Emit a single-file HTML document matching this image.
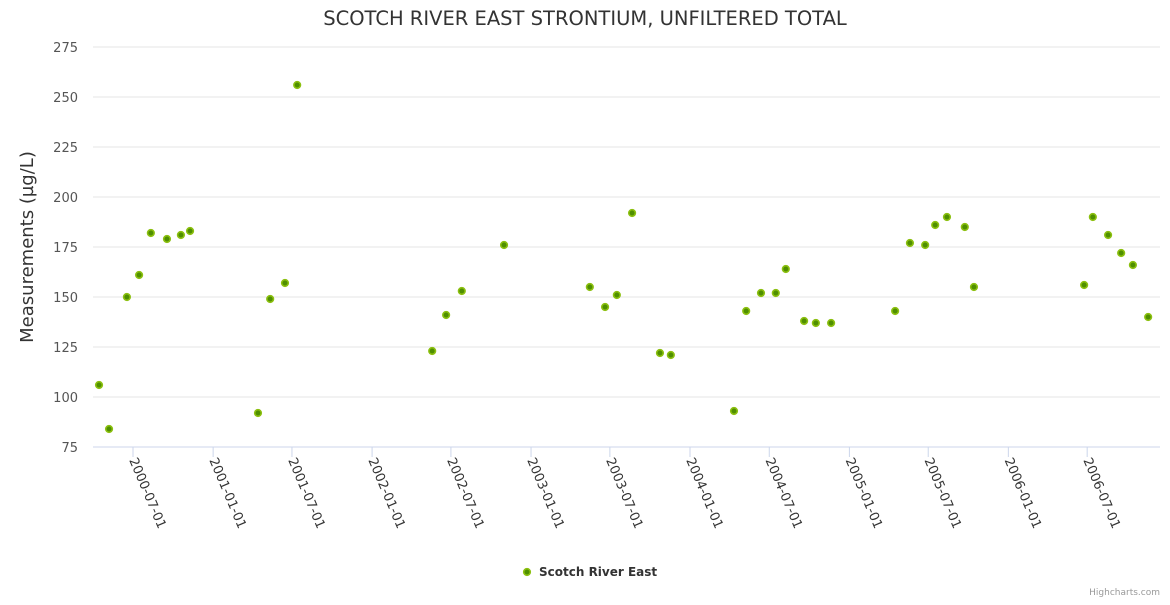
<!DOCTYPE html>
<html><head><meta charset="utf-8"><style>
body{margin:0;background:#fff;}
svg{font-family:"DejaVu Sans","Liberation Sans",sans-serif;}
</style></head><body>
<svg width="1170" height="600" id="c">
<text x="585" y="25" text-anchor="middle" font-size="19.5" fill="#333">SCOTCH RIVER EAST STRONTIUM, UNFILTERED TOTAL</text>
<text transform="translate(33,247) rotate(-90)" text-anchor="middle" font-size="18" fill="#333">Measurements (µg/L)</text>
<g id="grid"></g><g id="xt"></g><g id="pts"></g>
<g>
<circle cx="527" cy="572" r="3.3" fill="#4f8f00" stroke="#8cc010" stroke-width="1.6"/>
<text x="539" y="576" font-size="12" font-weight="bold" fill="#333">Scotch River East</text>
</g>
<text x="1160" y="595" text-anchor="end" font-size="9" fill="#999">Highcharts.com</text>
</svg>
<script>
const dates=["2000-04-14","2000-05-07","2000-06-17","2000-07-15","2000-08-11","2000-09-17","2000-10-19","2000-11-09","2001-04-14","2001-05-12","2001-06-15","2001-07-13","2002-05-19","2002-06-20","2002-07-26","2002-10-31","2003-05-16","2003-06-20","2003-07-17","2003-08-21","2003-10-24","2003-11-18","2004-04-11","2004-05-09","2004-06-12","2004-07-16","2004-08-08","2004-09-19","2004-10-16","2004-11-20","2005-04-16","2005-05-20","2005-06-24","2005-07-17","2005-08-13","2005-09-23","2005-10-14","2006-06-24","2006-07-14","2006-08-18","2006-09-17","2006-10-14","2006-11-18"];
const values=[106,84,150,161,182,179,181,183,92,149,157,256,123,141,153,176,155,145,151,192,122,121,93,143,152,152,164,138,137,137,143,177,176,186,190,185,155,156,190,181,172,166,140];
const yTicks=[75,100,125,150,175,200,225,250,275];
const xTicks=["2000-07-01","2001-01-01","2001-07-01","2002-01-01","2002-07-01","2003-01-01","2003-07-01","2004-01-01","2004-07-01","2005-01-01","2005-07-01","2006-01-01","2006-07-01"];
const NS="http://www.w3.org/2000/svg";
const t0=Date.UTC(2000,6,1);
function xS(d){const p=d.split('-');return 133+(Date.UTC(+p[0],p[1]-1,+p[2])-t0)/86400000*0.4355;}
function yS(v){return 447-(v-75)*2;}
function mk(tag,a,par){const e=document.createElementNS(NS,tag);for(const k in a)e.setAttribute(k,a[k]);document.getElementById(par).appendChild(e);return e;}
yTicks.forEach(v=>{
 const l=mk('line',{x1:93,x2:1160,y1:yS(v),y2:yS(v),stroke:v===75?'#ccd6eb':'#e6e6e6','stroke-width':1},'grid');
 
 
 const t=mk('text',{x:78,y:yS(v)+5,'text-anchor':'end','font-size':13,fill:'#555'},'grid');
 t.textContent=v;
 
 
});
xTicks.forEach(d=>{
 const x=xS(d);
 const l=mk('line',{x1:x,x2:x,y1:447,y2:457,stroke:'#ccd6eb'},'xt');
 
 
 const t=mk('text',{x:0,y:0,'font-size':13,fill:'#333',transform:`translate(${x-4},${460}) rotate(67)`},'xt');
 t.textContent=d;
 
 
});
dates.forEach((d,i)=>{
 const c=mk('circle',{cx:xS(d),cy:yS(values[i]),r:3.3,fill:'#4f8f00',stroke:'#8cc010','stroke-width':1.6},'pts');
 
 
});
</script>
</body></html>
